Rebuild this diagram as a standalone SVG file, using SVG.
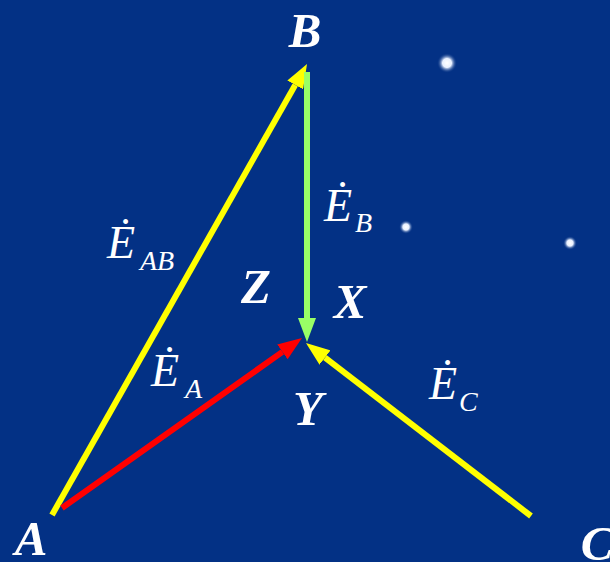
<svg xmlns="http://www.w3.org/2000/svg" width="610" height="562" viewBox="0 0 610 562">
<defs>
<style>
.lbl{font-family:"Liberation Serif","Times New Roman",serif;font-weight:bold;font-style:italic;fill:#fff;font-size:49px;text-anchor:middle}
.ev{font-family:"Liberation Serif","Times New Roman",serif;font-style:italic;fill:#fff;font-size:46px}
.sub{font-family:"Liberation Serif","Times New Roman",serif;font-style:italic;fill:#fff;font-size:28px}
.ln{stroke-width:6;stroke-linecap:butt;fill:none}
</style>
<radialGradient id="star">
<stop offset="0" stop-color="#ffffff"/>
<stop offset="0.45" stop-color="#e8f0ff"/>
<stop offset="1" stop-color="#033185" stop-opacity="0"/>
</radialGradient>
<marker id="hy" markerUnits="userSpaceOnUse" viewBox="0 0 24 18" markerWidth="24" markerHeight="18" refX="0" refY="9" orient="auto"><path d="M0,0 L24,9 L0,18 z" fill="#ffff00"/></marker>
<marker id="hr" markerUnits="userSpaceOnUse" viewBox="0 0 24 18" markerWidth="24" markerHeight="18" refX="0" refY="9" orient="auto"><path d="M0,0 L24,9 L0,18 z" fill="#ff0000"/></marker>
<marker id="hg" markerUnits="userSpaceOnUse" viewBox="0 0 24 18" markerWidth="24" markerHeight="18" refX="0" refY="9" orient="auto"><path d="M0,0 L24,9 L0,18 z" fill="#99ff66"/></marker>
</defs>
<rect width="610" height="562" fill="#033185"/>
<g id="stars">
<circle cx="447" cy="63" r="10" fill="url(#star)"/>
<circle cx="406" cy="227" r="7" fill="url(#star)"/>
<circle cx="570" cy="243" r="7" fill="url(#star)"/>
</g>
<g id="connectors">
<line class="ln" x1="52" y1="515" x2="295.2" y2="84.9" stroke="#ffff00" marker-end="url(#hy)"/>
<line class="ln" x1="307" y1="72" x2="307" y2="318" stroke="#99ff66" marker-end="url(#hg)"/>
<line class="ln" x1="62" y1="508" x2="282.4" y2="351.9" stroke="#ff0000" marker-end="url(#hr)"/>
<line class="ln" x1="531" y1="516" x2="325" y2="357.6" stroke="#ffff00" marker-end="url(#hy)"/>
</g>
<g id="node-A"><text class="lbl" x="31" y="555">A</text></g>
<g id="node-B"><text class="lbl" x="305" y="47">B</text></g>
<g id="node-C"><text class="lbl" x="597" y="560">C</text></g>
<g id="node-X"><text class="lbl" x="350" y="318">X</text></g>
<g id="node-Y"><text class="lbl" x="308" y="425">Y</text></g>
<g id="node-Z"><text class="lbl" x="256" y="303">Z</text></g>
<g id="label-EAB"><text class="ev" x="107" y="258">Ė</text><text class="sub" x="140" y="270">AB</text></g>
<g id="label-EB"><text class="ev" x="324" y="221">Ė</text><text class="sub" x="355" y="232">B</text></g>
<g id="label-EA"><text class="ev" x="151" y="386">Ė</text><text class="sub" x="185" y="398">A</text></g>
<g id="label-EC"><text class="ev" x="429" y="399">Ė</text><text class="sub" x="459" y="411">C</text></g>
</svg>
